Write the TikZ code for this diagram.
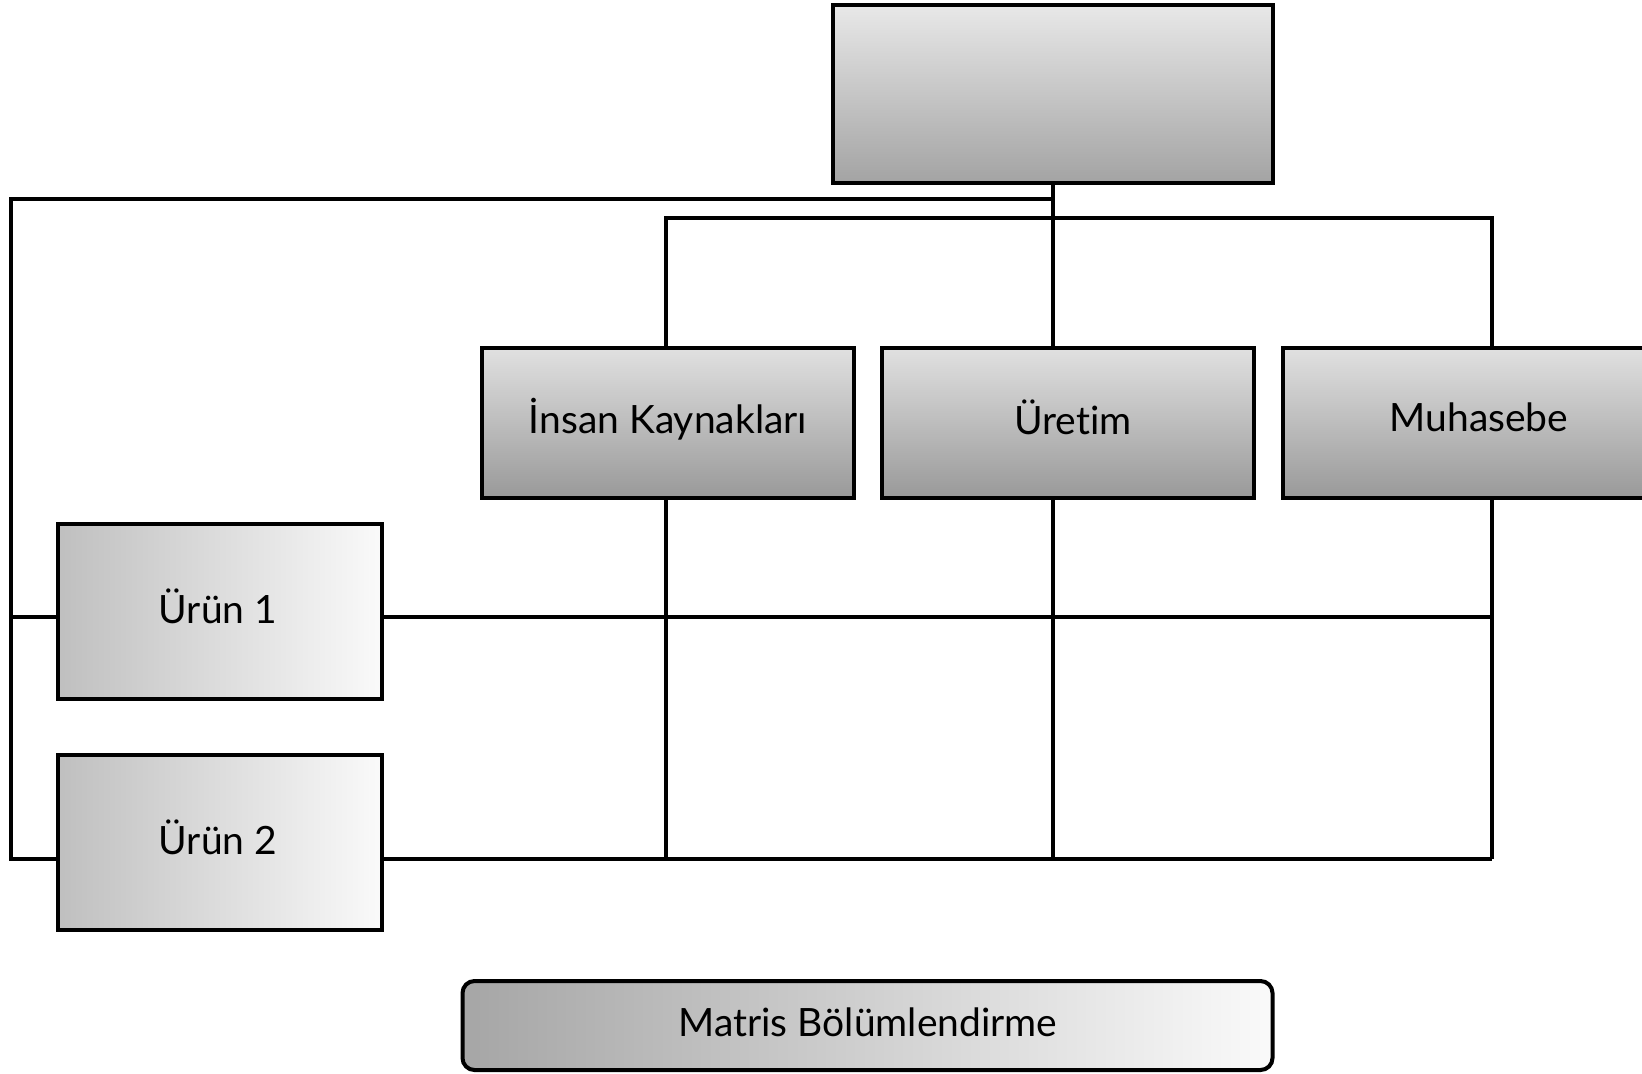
\documentclass[tikz,border=0pt]{standalone}
\usepackage{fontspec}
\setmainfont{Lato}[Ligatures=NoCommon]
\begin{document}
\begin{tikzpicture}[x=0.5pt,y=-0.5pt,
  box/.style={draw=black,line width=2pt,inner sep=0pt},
  lbltext/.style={font=\fontsize{19.5}{24}\selectfont},
  line/.style={draw=black,line width=2pt}]
\clip (0,0) rectangle (1642,1073);
\fill[white] (0,0) rectangle (1642,1073);
% boxes
\node[box,top color=black!9,bottom color=black!36,minimum width=220pt,minimum height=89pt] (top) at (1053,94) {};
\node[box,top color=black!12,bottom color=black!40,minimum width=186pt,minimum height=75pt] (ik) at (668,423) {};
\node[box,top color=black!12,bottom color=black!40,minimum width=186pt,minimum height=75pt] (ure) at (1068,423) {};
\node[box,top color=black!12,bottom color=black!40,minimum width=186pt,minimum height=75pt] (muh) at (1469,423) {};
\node[box,left color=black!25,right color=black!2,minimum width=162pt,minimum height=87.5pt] (u1) at (220,611.5) {};
\node[box,left color=black!25,right color=black!2,minimum width=162pt,minimum height=87.5pt] (u2) at (220,842.5) {};
\node[box,rounded corners=6pt,left color=black!35,right color=black!2,minimum width=405pt,minimum height=44.5pt] (lbl) at (867.5,1025.5) {};
% texts
\node[lbltext] (tik) at (668,419) {İnsan Kaynakları};
\node[lbltext] (tur) at (1073,417) {Üretim};
\node[lbltext] (tmu) at (1479,417) {Muhasebe};
\node[lbltext] (tu1) at (218,606) {Ürün 1};
\node[lbltext] (tu2) at (218,837) {Ürün 2};
\node[lbltext] (tlb) at (868,1022) {Matris Bölümlendirme};
% coordinates
\coordinate (ja) at (1053,199);
\coordinate (lt) at (11,199);
\coordinate (l1) at (11,617);
\coordinate (l2) at (11,859);
\coordinate (ikt) at (666,218);
\coordinate (mut) at (1492,218);
\coordinate (ikb) at (666,859);
\coordinate (urb) at (1053,859);
\coordinate (mub) at (1492,859);
\coordinate (m1) at (1492,617);
% connectors
\draw[line] (top.south) -- (top.south |- ure.north);
\draw[line] (ja) -- (lt) -- (l2) -- (l2 -| u2.west);
\draw[line] (l1) -- (l1 -| u1.west);
\draw[line] (ikt |- ik.north) -- (ikt) -- (mut) -- (mut |- muh.north);
\draw[line] (ikt |- ik.south) -- (ikb);
\draw[line] (top.south |- ure.south) -- (urb);
\draw[line] (mut |- muh.south) -- (mub);
\draw[line] (u1.east |- m1) -- (m1);
\draw[line] (u2.east |- mub) -- (mub);
\end{tikzpicture}
\end{document}
